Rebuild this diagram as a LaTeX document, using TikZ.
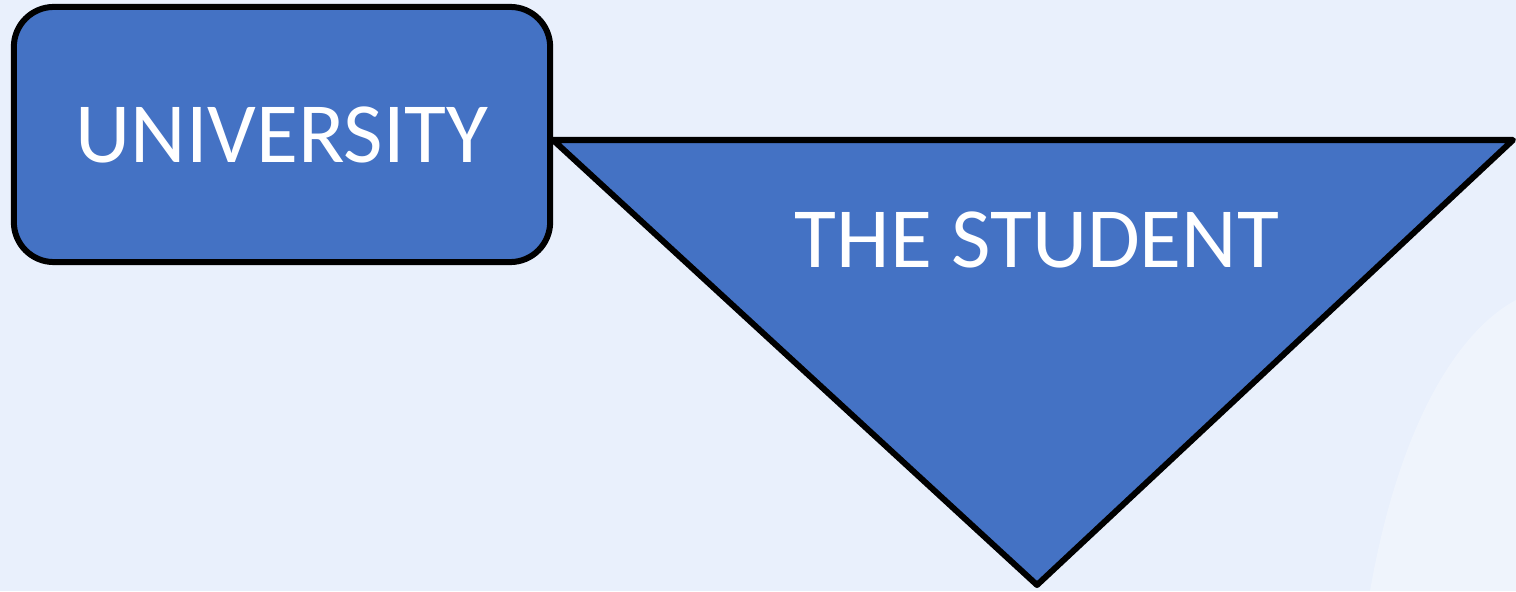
\documentclass[tikz,border=0pt]{standalone}
\usepackage{fontspec}
\setmainfont{Carlito}
\definecolor{bg}{HTML}{E9F0FC}
\definecolor{boxblue}{HTML}{4472C4}
\tikzset{
  shapefill/.style={fill=boxblue, draw=black, line width=0.06cm, line join=round},
  lbl/.style={text=white, font=\fontsize{24.4}{28}\selectfont, inner sep=0pt}
}
\begin{document}
\begin{tikzpicture}[x=0.01cm,y=-0.01cm]
\useasboundingbox (0,0) rectangle (1516,591);
\fill[bg] (0,0) rectangle (1516,591);
% faint background remnant at right
\fill[white, opacity=0.3] (1516,300) .. controls (1460,330) and (1400,420) .. (1370,591) -- (1516,591) -- cycle;
% triangle
\coordinate (tl) at (553,140);
\coordinate (tr) at (1513,140);
\coordinate (tb) at (1037,585);
\draw[shapefill] (tl) -- (tr) -- (tb) -- cycle;
\node[lbl] (stu) at (1037,240) {THE STUDENT};
% university box
\node[shapefill, rounded corners=0.4cm, minimum width=5.36cm, minimum height=2.55cm, inner sep=0pt] (uni) at (282,134.5) {};
\node[lbl] at (uni.center) {UNIVERSITY};
\end{tikzpicture}
\end{document}
